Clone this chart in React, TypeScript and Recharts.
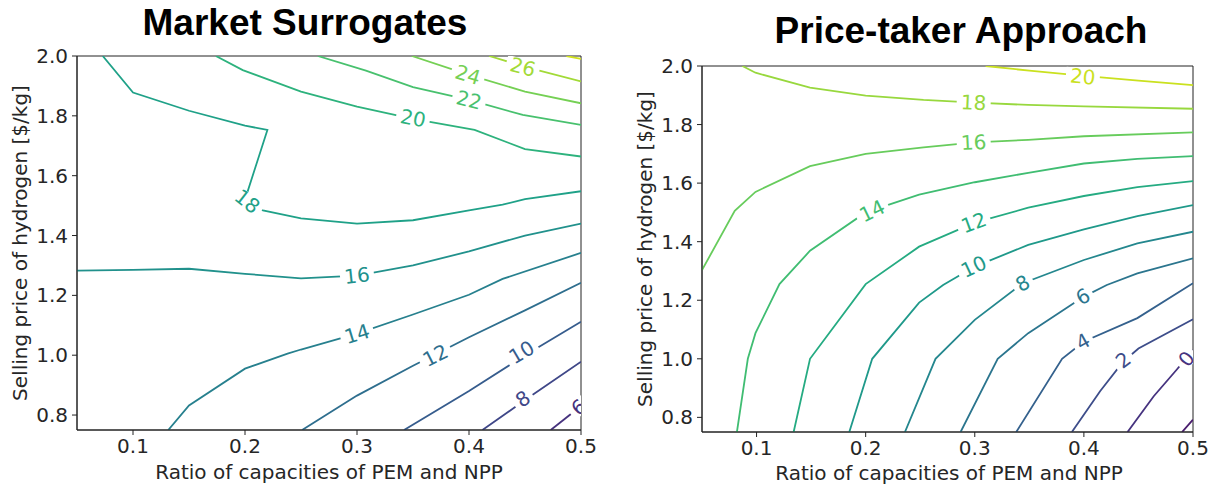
import { LineChart, Line, XAxis, YAxis, ReferenceDot, ReferenceArea } from 'recharts';

type Pt = [number, number];

// ---- Market Surrogates contours (x = PEM/NPP ratio, y = H2 price) ----
const ms6: Pt[] = [[0.473, 0.75], [0.5, 0.83]];
const ms8: Pt[] = [[0.412, 0.75], [0.45, 0.85], [0.5, 0.978]];
const ms10: Pt[] = [[0.342, 0.75], [0.4, 0.88], [0.45, 1.0], [0.5, 1.112]];
const ms12: Pt[] = [[0.251, 0.75], [0.3, 0.865], [0.35, 0.965], [0.4, 1.06], [0.45, 1.15], [0.5, 1.242]];
const ms14: Pt[] = [[0.1315, 0.75], [0.15, 0.832], [0.2, 0.955], [0.238, 1.005], [0.25, 1.019], [0.3, 1.072], [0.35, 1.136], [0.4, 1.202], [0.43, 1.255], [0.5, 1.342]];
const ms16: Pt[] = [[0.05, 1.283], [0.1, 1.285], [0.15, 1.289], [0.2, 1.272], [0.25, 1.257], [0.3, 1.266], [0.35, 1.3], [0.4, 1.347], [0.45, 1.4], [0.5, 1.44]];
const ms18: Pt[] = [[0.073, 2.0], [0.1, 1.878], [0.15, 1.817], [0.2, 1.767], [0.22, 1.753], [0.2, 1.52], [0.216, 1.484], [0.25, 1.457], [0.3, 1.44], [0.35, 1.451], [0.4, 1.484], [0.43, 1.503], [0.45, 1.522], [0.5, 1.548]];
const ms20: Pt[] = [[0.174, 2.0], [0.198, 1.953], [0.25, 1.881], [0.3, 1.831], [0.35, 1.79], [0.405, 1.753], [0.45, 1.689], [0.5, 1.664]];
const ms22: Pt[] = [[0.265, 2.0], [0.308, 1.951], [0.35, 1.896], [0.4, 1.853], [0.448, 1.803], [0.5, 1.77]];
const ms24: Pt[] = [[0.349, 2.0], [0.4, 1.937], [0.45, 1.881], [0.5, 1.842]];
const ms26: Pt[] = [[0.418, 2.0], [0.45, 1.964], [0.5, 1.915]];
const ms28: Pt[] = [[0.487, 2.0], [0.5, 1.99]];

const msLevels = [6, 8, 10, 12, 14, 16, 18, 20, 22, 24, 26, 28];
const msColors = ['#46327e', '#3f4788', '#365c8d', '#2e6e8e', '#27808e', '#21918c', '#1fa188', '#2db27d', '#48c16e', '#75d054', '#a2da37', '#d0e11c'];
const msPaths = [ms6, ms8, ms10, ms12, ms14, ms16, ms18, ms20, ms22, ms24, ms26, ms28];

// label: level, x, y, rotation (deg)
const msLabels: [number, number, number, number][] = [
  [6, 0.498, 0.826, -40],
  [8, 0.448, 0.854, -34],
  [10, 0.447, 1.01, -31],
  [12, 0.37, 0.999, -27],
  [14, 0.3, 1.071, -17],
  [16, 0.3, 1.266, -6],
  [18, 0.202, 1.514, 38],
  [20, 0.35, 1.792, 11],
  [22, 0.4, 1.853, 14],
  [24, 0.399, 1.937, 17],
  [26, 0.448, 1.963, 15],
];

// ---- Price-taker contours ----
const pt_2: Pt[] = [[0.49, 0.75], [0.5, 0.792]];
const pt0: Pt[] = [[0.44, 0.75], [0.464, 0.872], [0.485, 0.9625], [0.5, 1.03]];
const pt2: Pt[] = [[0.389, 0.75], [0.415, 0.89], [0.436, 0.99], [0.45, 1.035], [0.5, 1.135]];
const pt4: Pt[] = [[0.338, 0.75], [0.38, 1.0], [0.4, 1.059], [0.449, 1.139], [0.5, 1.258]];
const pt6: Pt[] = [[0.287, 0.75], [0.321, 1.0], [0.349, 1.0875], [0.4, 1.2125], [0.421, 1.252], [0.449, 1.292], [0.5, 1.343]];
const pt8: Pt[] = [[0.236, 0.75], [0.264, 1.0], [0.3, 1.133], [0.344, 1.258], [0.4, 1.3375], [0.449, 1.394], [0.5, 1.434]];
const pt10: Pt[] = [[0.185, 0.75], [0.206, 1.0], [0.249, 1.192], [0.271, 1.252], [0.3, 1.315], [0.349, 1.389], [0.4, 1.442], [0.449, 1.487], [0.5, 1.525]];
const pt12: Pt[] = [[0.134, 0.75], [0.149, 1.0], [0.2, 1.255], [0.249, 1.383], [0.3, 1.465], [0.349, 1.516], [0.4, 1.556], [0.449, 1.586], [0.5, 1.607]];
const pt14: Pt[] = [[0.082, 0.75], [0.092, 1.0], [0.099, 1.0875], [0.121, 1.255], [0.149, 1.369], [0.2, 1.5], [0.249, 1.561], [0.3, 1.603], [0.349, 1.635], [0.4, 1.667], [0.449, 1.683], [0.5, 1.692]];
const pt16: Pt[] = [[0.05, 1.303], [0.08, 1.505], [0.099, 1.57], [0.149, 1.658], [0.2, 1.7], [0.253, 1.722], [0.3, 1.739], [0.349, 1.748], [0.4, 1.76], [0.5, 1.773]];
const pt18: Pt[] = [[0.087, 2.0], [0.099, 1.977], [0.149, 1.926], [0.2, 1.899], [0.253, 1.884], [0.3, 1.875], [0.349, 1.867], [0.4, 1.862], [0.5, 1.854]];
const pt20: Pt[] = [[0.31, 2.0], [0.35, 1.984], [0.4, 1.966], [0.45, 1.95], [0.5, 1.935]];

const ptLevels = [-2, 0, 2, 4, 6, 8, 10, 12, 14, 16, 18, 20];
const ptColors = ['#481b6d', '#46337f', '#3d4d8a', '#34618d', '#2b758e', '#24878e', '#1f998a', '#25ab82', '#40bd72', '#67cc5c', '#98d83e', '#cae11f'];
const ptPaths = [pt_2, pt0, pt2, pt4, pt6, pt8, pt10, pt12, pt14, pt16, pt18, pt20];

const ptLabels: [number, number, number, number][] = [
  [0, 0.494, 1.0, -50],
  [2, 0.436, 0.996, -38],
  [4, 0.399, 1.059, -29],
  [6, 0.399, 1.2125, -29],
  [8, 0.344, 1.258, -29],
  [10, 0.299, 1.315, -25],
  [12, 0.299, 1.465, -20],
  [14, 0.206, 1.505, -26],
  [16, 0.299, 1.739, -3],
  [18, 0.299, 1.875, 3],
  [20, 0.399, 1.964, 6],
];

const xTicks = [0.1, 0.2, 0.3, 0.4, 0.5];
const yTicks = [0.8, 1.0, 1.2, 1.4, 1.6, 1.8, 2.0];

const FONT = "'DejaVu Sans', sans-serif";
const tickStyle = { fontSize: 20, fill: '#262626', fontFamily: FONT };

type PanelProps = {
  width: number;
  height: number;
  margin: { top: number; right: number; bottom: number; left: number };
  yAxisWidth: number;
  levels: number[];
  colors: string[];
  paths: Pt[][];
  labels: [number, number, number, number][];
  clipId: string;
};

function ContourPanel({ width, height, margin, yAxisWidth, levels, colors, paths, labels, clipId }: PanelProps) {
  const xAxisHeight = 30;
  const plotX = margin.left + yAxisWidth;
  const plotY = margin.top;
  const plotW = width - margin.right - plotX;
  const plotH = height - margin.bottom - xAxisHeight - plotY;
  const colorOf = (lvl: number) => colors[levels.indexOf(lvl)];

  return (
    <LineChart width={width} height={height} margin={margin}>
      <XAxis
        type="number"
        dataKey="x"
        domain={[0.05, 0.5]}
        ticks={xTicks}
        allowDataOverflow
        height={xAxisHeight}
        tickFormatter={(v: number) => v.toFixed(1)}
        tick={tickStyle}
        tickSize={5}
        tickMargin={4}
        stroke="#222"
      />
      <YAxis
        type="number"
        dataKey="y"
        domain={[0.75, 2.0]}
        ticks={yTicks}
        allowDataOverflow
        width={yAxisWidth}
        tickFormatter={(v: number) => v.toFixed(1)}
        tick={tickStyle}
        tickSize={5}
        tickMargin={4}
        stroke="#222"
      />
      <ReferenceArea x1={0.05} x2={0.5} y1={0.75} y2={2.0} fill="none" fillOpacity={0} stroke="#222" strokeWidth={1} ifOverflow="visible" />
      {paths.map((pts, i) => (
        <Line
          key={levels[i]}
          data={pts.map(([x, y]) => ({ x, y }))}
          dataKey="y"
          type="linear"
          stroke={colors[i]}
          strokeWidth={1.8}
          dot={false}
          activeDot={false}
          isAnimationActive={false}
        />
      ))}
      {labels.map(([lvl, x, y, angle]) => (
        <ReferenceDot
          key={`lbl-${lvl}`}
          x={x}
          y={y}
          r={0}
          ifOverflow="visible"
          shape={(p: any) => {
            const txt = String(lvl);
            const w = txt.length * 13 + 8;
            const id = `${clipId}-${lvl}`;
            return (
              <g>
                <defs>
                  <clipPath id={id}>
                    <rect x={plotX} y={plotY} width={plotW} height={plotH} />
                  </clipPath>
                </defs>
                <g clipPath={`url(#${id})`}>
                  <g transform={`translate(${p.cx},${p.cy}) rotate(${angle})`}>
                    <rect x={-w / 2} y={-8} width={w} height={16} fill="#fff" />
                    <text x={0} y={7} textAnchor="middle" fontSize={20} fontFamily={FONT} fill={colorOf(lvl)}>
                      {txt}
                    </text>
                  </g>
                </g>
              </g>
            );
          }}
        />
      ))}
    </LineChart>
  );
}

export default function App() {
  return (
    <div style={{ position: 'relative', width: 1211, height: 490, background: '#fff', overflow: 'hidden' }}>
      <style>{'body{margin:0;}'}</style>
      <div style={{ position: 'absolute', left: 0, top: 0 }}>
        <ContourPanel
          width={600}
          height={490}
          margin={{ top: 56, right: 19, bottom: 30, left: 20 }}
          yAxisWidth={57}
          levels={msLevels}
          colors={msColors}
          paths={msPaths}
          labels={msLabels}
          clipId="ms"
        />
      </div>
      <div style={{ position: 'absolute', left: 620, top: 0 }}>
        <ContourPanel
          width={591}
          height={490}
          margin={{ top: 66, right: 18, bottom: 28, left: 25 }}
          yAxisWidth={57}
          levels={ptLevels}
          colors={ptColors}
          paths={ptPaths}
          labels={ptLabels}
          clipId="pt"
        />
      </div>
      <svg width={1211} height={490} style={{ position: 'absolute', left: 0, top: 0, pointerEvents: 'none' }}>
        <text x={305} y={35} textAnchor="middle" fontSize={37} fontWeight="bold" fontFamily="'Liberation Sans', Arial, sans-serif" fill="#000">
          Market Surrogates
        </text>
        <text x={961} y={43} textAnchor="middle" fontSize={37} fontWeight="bold" fontFamily="'Liberation Sans', Arial, sans-serif" fill="#000">
          Price-taker Approach
        </text>
        <text x={329} y={479} textAnchor="middle" fontSize={20} fontFamily={FONT} fill="#262626">
          Ratio of capacities of PEM and NPP
        </text>
        <text x={949} y={480} textAnchor="middle" fontSize={20} fontFamily={FONT} fill="#262626">
          Ratio of capacities of PEM and NPP
        </text>
        <text transform="translate(27,243) rotate(-90)" textAnchor="middle" fontSize={20} fontFamily={FONT} fill="#262626">
          Selling price of hydrogen [$/kg]
        </text>
        <text transform="translate(652,249) rotate(-90)" textAnchor="middle" fontSize={20} fontFamily={FONT} fill="#262626">
          Selling price of hydrogen [$/kg]
        </text>
      </svg>
    </div>
  );
}
